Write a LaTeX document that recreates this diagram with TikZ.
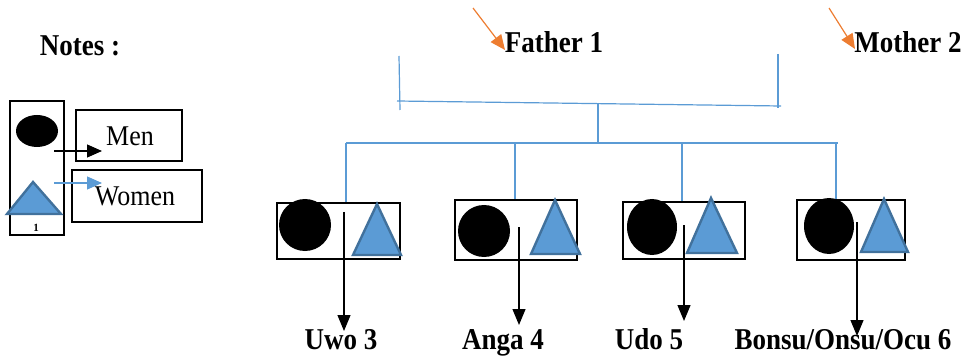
\documentclass[tikz,border=0pt]{standalone}
\usepackage{fontspec}
\setmainfont{Liberation Serif}
\usetikzlibrary{arrows.meta}
\definecolor{lineblue}{HTML}{5B9BD5}
\definecolor{triblue}{HTML}{5B9BD5}
\definecolor{triedge}{HTML}{41719C}
\definecolor{orng}{HTML}{ED7D31}
\newcommand{\tallbf}[1]{\scalebox{1}[1.12]{\bfseries #1}}
\begin{document}
\begin{tikzpicture}[x=1pt,y=-1pt,
  lbl/.style={font=\fontsize{27}{29}\selectfont, inner sep=0pt, anchor=base},
  frame/.style={draw=black, line width=1.2pt, inner sep=0pt},
  famline/.style={draw=lineblue, line width=1.2pt},
  dot/.style={fill=black},
  tri/.style={fill=triblue, draw=triedge, line width=2.4pt, line join=miter},
  down/.style={draw=black, line width=1.2pt, -{Triangle[length=16pt,width=13pt]}},
  orarrow/.style={draw=orng, line width=1.2pt, -{Triangle[length=15pt,width=13pt]}}
]
\useasboundingbox (0,0) rectangle (966,358);

% Notes
\node[lbl] (notes) at (80,56) {\tallbf{Notes :}};

% legend
\node[frame, minimum width=54pt, minimum height=134pt] (legend) at (37,168) {};
\fill[dot] (37,131) ellipse [x radius=21pt, y radius=16pt];
\draw[tri] (7,214) -- (33,182) -- (61,214) -- cycle;
\node[inner sep=0pt, anchor=base, font=\fontsize{11}{11}\selectfont\bfseries] (one) at (36,231) {1};
\node[frame, minimum width=106pt, minimum height=51pt] (menbox) at (129,135.5) {};
\node[inner sep=0pt, anchor=base, font=\fontsize{26}{28}\selectfont] (men) at (130,146) {\scalebox{1}[1.1]{Men}};
\node[frame, minimum width=130pt, minimum height=52pt] (womenbox) at (137,196) {};
\node[inner sep=0pt, anchor=base, font=\fontsize{26}{28}\selectfont] (women) at (135,206) {\scalebox{1}[1.1]{Women}};
\coordinate (ms) at (54,151);
\coordinate (me) at (102,151);
\draw[draw=black, line width=1.2pt, -{Triangle[length=15pt,width=13pt]}] (ms) -- (me);
\coordinate (ws) at (54,183);
\coordinate (we) at (102,183);
\draw[draw=lineblue, line width=1.2pt, -{Triangle[length=15pt,width=13pt]}] (ws) -- (we);

% parents
\node[lbl] (father) at (554,53) {\tallbf{Father 1}};
\node[lbl] (mother) at (908,53) {\tallbf{Mother 2}};
\coordinate (fa) at (473,8);
\coordinate (fb) at (505,50);
\coordinate (ma) at (829,8);
\coordinate (mb) at (855,49);
\draw[orarrow] (fa) -- (fb);
\draw[orarrow] (ma) -- (mb);

% family lines
\coordinate (lv1) at (399,56);
\coordinate (lv2) at (400,110);
\coordinate (rv1) at (778,54);
\coordinate (rv2) at (778,108);
\coordinate (hl) at (397,101);
\coordinate (hr) at (781,106);
\coordinate (mid1) at (598,103);
\coordinate (mid2) at (598,143);
\coordinate (bl) at (346,143);
\coordinate (br) at (838,143);
\draw[famline] (lv1) -- (lv2);
\draw[famline] (rv1) -- (rv2);
\draw[famline] (hl) -- (hr);
\draw[famline] (mid1) -- (mid2);
\draw[famline] (bl) -- (br);

% child boxes
\node[frame, minimum width=123pt, minimum height=56pt] (c1) at (338.5,231) {};
\node[frame, minimum width=122pt, minimum height=60pt] (c2) at (516,230) {};
\node[frame, minimum width=122pt, minimum height=57pt] (c3) at (684,230.5) {};
\node[frame, minimum width=108pt, minimum height=60pt] (c4) at (851,230) {};

\draw[famline] (346,143) -- (c1.north -| 346,0);
\draw[famline] (515,143) -- (c2.north -| 515,0);
\draw[famline] (682,143) -- (c3.north -| 682,0);
\draw[famline] (836,143) -- (c4.north -| 836,0);

% circles and triangles
\fill[dot] (305,225) ellipse [x radius=26pt, y radius=26pt];
\draw[tri] (353,255) -- (377,204) -- (401,255) -- cycle;
\fill[dot] (484,231) ellipse [x radius=26pt, y radius=26pt];
\draw[tri] (531,254) -- (555,200) -- (580,254) -- cycle;
\fill[dot] (652,227) ellipse [x radius=25pt, y radius=28pt];
\draw[tri] (687,253) -- (711,198) -- (737,253) -- cycle;
\fill[dot] (829,226) ellipse [x radius=25pt, y radius=28pt];
\draw[tri] (861,252) -- (884,199) -- (908,252) -- cycle;

% labels
\node[lbl] (l1) at (341,349) {\tallbf{Uwo 3}};
\node[lbl] (l2) at (503,349) {\tallbf{Anga 4}};
\node[lbl] (l3) at (649,349) {\tallbf{Udo 5}};
\node[lbl] (l4) at (843,349) {\tallbf{Bonsu/Onsu/Ocu 6}};

\coordinate (a1s) at (344,212);
\coordinate (a1e) at (344,331);
\coordinate (a2s) at (519,227);
\coordinate (a2e) at (519,325);
\coordinate (a3s) at (684,225);
\coordinate (a3e) at (684,321);
\coordinate (a4s) at (857,222);
\coordinate (a4e) at (857,336);
\draw[down] (a1s) -- (a1e);
\draw[down] (a2s) -- (a2e);
\draw[down] (a3s) -- (a3e);
\draw[down] (a4s) -- (a4e);
\end{tikzpicture}
\end{document}
